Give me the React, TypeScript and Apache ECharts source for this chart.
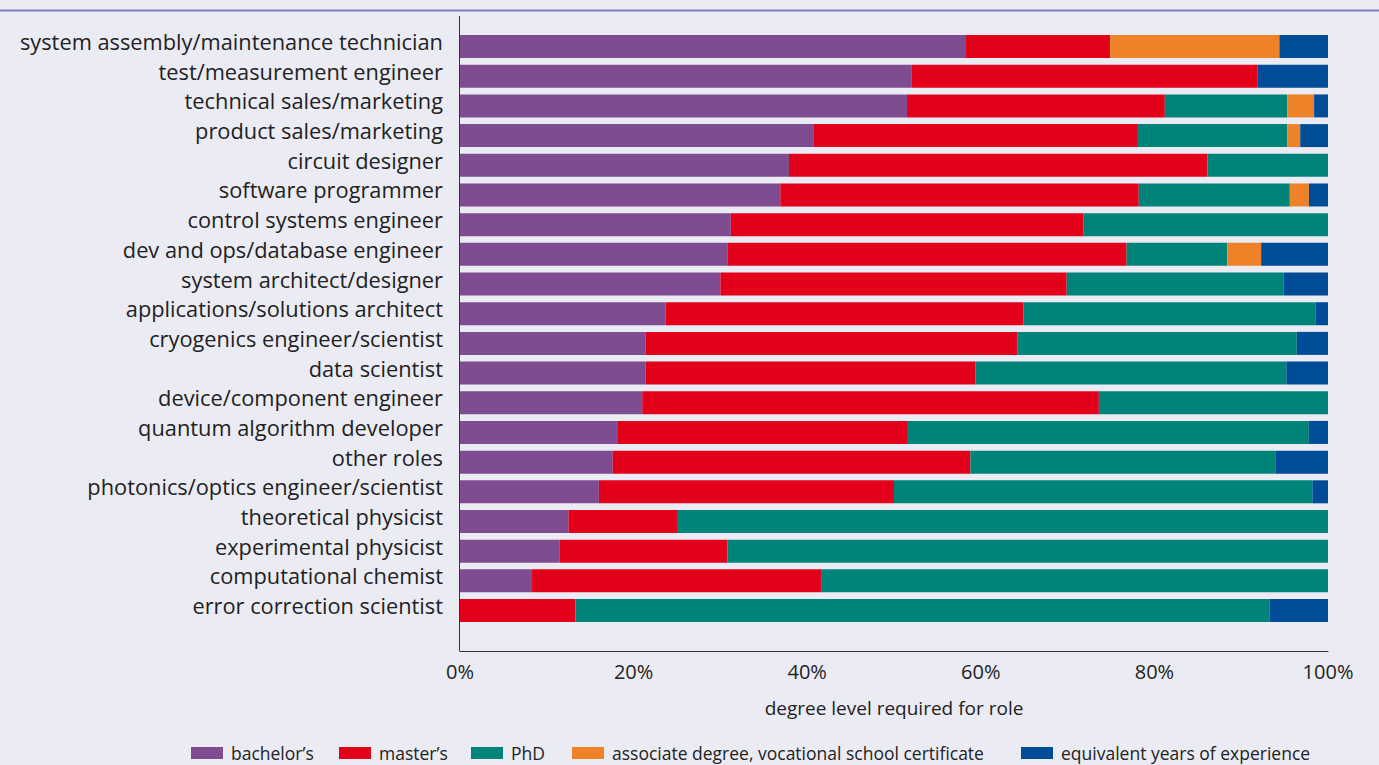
import React, { useEffect, useRef } from "react";
import * as echarts from "echarts";

const categories = [
  "system assembly/maintenance technician",
  "test/measurement engineer",
  "technical sales/marketing",
  "product sales/marketing",
  "circuit designer",
  "software programmer",
  "control systems engineer",
  "dev and ops/database engineer",
  "system architect/designer",
  "applications/solutions architect",
  "cryogenics engineer/scientist",
  "data scientist",
  "device/component engineer",
  "quantum algorithm developer",
  "other roles",
  "photonics/optics engineer/scientist",
  "theoretical physicist",
  "experimental physicist",
  "computational chemist",
  "error correction scientist",
];

const bachelors = [58.3, 52.0, 51.5, 40.7, 37.9, 36.9, 31.2, 30.8, 30.0, 23.7, 21.4, 21.4, 21.0, 18.2, 17.6, 16.0, 12.5, 11.5, 8.3, 0];
const masters = [16.6, 39.9, 29.7, 37.4, 48.2, 41.3, 40.6, 46.0, 39.9, 41.2, 42.8, 38.0, 52.6, 33.4, 41.2, 34.0, 12.5, 19.3, 33.3, 13.3];
const phd = [0, 0, 14.1, 17.2, 13.9, 17.4, 28.2, 11.6, 25.0, 33.7, 32.2, 35.8, 26.4, 46.2, 35.2, 48.2, 75.0, 69.2, 58.4, 80.0];
const associate = [19.5, 0, 3.1, 1.5, 0, 2.2, 0, 3.9, 0, 0, 0, 0, 0, 0, 0, 0, 0, 0, 0, 0];
const experience = [5.6, 8.1, 1.6, 3.2, 0, 2.2, 0, 7.7, 5.1, 1.4, 3.6, 4.8, 0, 2.2, 6.0, 1.8, 0, 0, 0, 6.7];

const seriesNames = [
  "bachelor\u2019s",
  "master\u2019s",
  "PhD",
  "associate degree, vocational school certificate",
  "equivalent years of experience",
];
const seriesColors = ["#7f4c91", "#e2001a", "#00847a", "#ee8228", "#004c97"];
const xTicks = [0, 20, 40, 60, 80, 100];

const FONT = "'Open Sans', 'Noto Sans', sans-serif";
const BG = "#ebebf4";

export default function App() {
  const ref = useRef<HTMLDivElement>(null);

  useEffect(() => {
    document.body.style.margin = "0";
    if (!ref.current) return;
    const chart = echarts.init(ref.current, undefined, { renderer: "svg" });

    const values = [bachelors, masters, phd, associate, experience];
    const legendLefts = [191, 339, 471, 572, 1021];

    const gridLeft = 460;
    const gridRight = 51;
    const gridTop = 31.7;
    const gridHeight = 593.7;
    const axisBottomY = 651;

    chart.setOption({
      animation: false,
      backgroundColor: BG,
      textStyle: { fontFamily: FONT },
      grid: {
        left: gridLeft,
        right: gridRight,
        top: gridTop,
        height: gridHeight,
        containLabel: false,
      },
      legend: seriesNames.map((n, i) => ({
        data: [n],
        left: legendLefts[i],
        top: 744,
        itemWidth: 32,
        itemHeight: 12,
        icon: "rect",
        padding: 0,
        textStyle: {
          fontFamily: FONT,
          fontSize: 17.5,
          lineHeight: 18,
          color: "#222",
          padding: [0, 0, 0, 3],
        },
        selectedMode: false,
      })),
      xAxis: {
        type: "value",
        min: xTicks[0],
        max: xTicks[xTicks.length - 1],
        interval: 20,
        offset: axisBottomY - (gridTop + gridHeight),
        axisLine: { show: true, lineStyle: { color: "#333", width: 1 } },
        axisTick: { show: false },
        splitLine: { show: false },
        axisLabel: {
          formatter: "{value}%",
          fontFamily: FONT,
          fontSize: 20,
          color: "#222",
          margin: 10,
        },
        name: "degree level required for role",
        nameLocation: "middle",
        nameGap: 47,
        nameTextStyle: { fontFamily: FONT, fontSize: 19, color: "#222" },
      },
      yAxis: {
        type: "category",
        data: categories,
        inverse: true,
        axisLine: { show: false },
        axisTick: { show: false },
        axisLabel: {
          fontFamily: FONT,
          fontSize: 21.8,
          color: "#222",
          margin: 17,
          verticalAlign: "bottom",
          lineHeight: 10,
        },
      },
      series: seriesNames.map((n, i) => ({
        name: n,
        type: "bar",
        stack: "total",
        barWidth: 23,
        data: values[i],
        itemStyle: { color: seriesColors[i] },
        emphasis: { disabled: true },
      })),
      graphic: [
        {
          type: "line",
          shape: { x1: 0, y1: 10.5, x2: 1379, y2: 10.5 },
          style: { stroke: "#7d7fb6", lineWidth: 2 },
          silent: true,
        },
        {
          type: "line",
          shape: { x1: gridLeft - 0.5, y1: 16, x2: gridLeft - 0.5, y2: axisBottomY },
          style: { stroke: "#333", lineWidth: 1 },
          silent: true,
        },
      ],
    });

    return () => chart.dispose();
  }, []);

  return <div ref={ref} style={{ width: 1379, height: 765, background: BG }} />;
}
